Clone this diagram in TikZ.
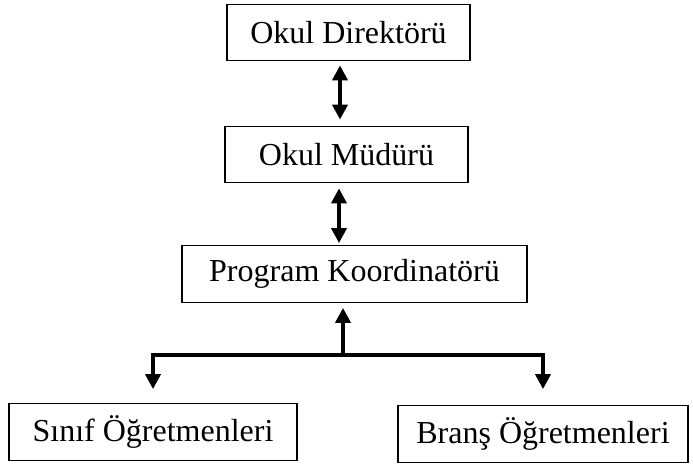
\documentclass[tikz,border=0pt]{standalone}
\usepackage{fontspec}
\setmainfont{Liberation Serif}
\usetikzlibrary{arrows.meta}

\begin{document}
\begin{tikzpicture}[x=0.5pt,y=-0.5pt,>={Triangle[width=7.5pt,length=7.5pt]}]
		\tikzstyle{every node}+=[inner sep=0pt,font=\fontsize{16}{19}\selectfont]
		\tikzstyle{box}=[draw=black,line width=0.6pt,minimum height=28.3pt]
		\tikzstyle{link}=[black,line width=2pt]
		\useasboundingbox (0,0) rectangle (693,464);
		\node [box,minimum width=121.5pt] (dir) at (348.5,32.5) {Okul Direktörü};
		\node [box,minimum width=121.5pt] (mud) at (346.5,154.5) {Okul Müdürü};
		\node [box,minimum width=172.5pt] (koord) at (354.5,274) {Program Koordinatörü};
		\node [box,minimum width=144pt] (sinif) at (153,432) {Sınıf Öğretmenleri};
		\node [box,minimum width=145pt] (brans) at (543,434) {Branş Öğretmenleri};
		\coordinate (a1) at (340,0);
		\coordinate (a2) at (339,0);
		\coordinate (bus) at (343,355);
		\draw [link,<->,shorten <=2pt,shorten >=3pt] (dir.south -| a1) -- (mud.north -| a1);
		\draw [link,<->,shorten <=2.5pt,shorten >=1pt] (mud.south -| a2) -- (koord.north -| a2);
		\draw [link,->,shorten >=2.5pt] (bus) -- (koord.south -| bus);
		\draw [link,<->,shorten <=7pt,shorten >=8pt] (sinif.north) |- (bus) -| (brans.north);
	\end{tikzpicture}
\end{document}
